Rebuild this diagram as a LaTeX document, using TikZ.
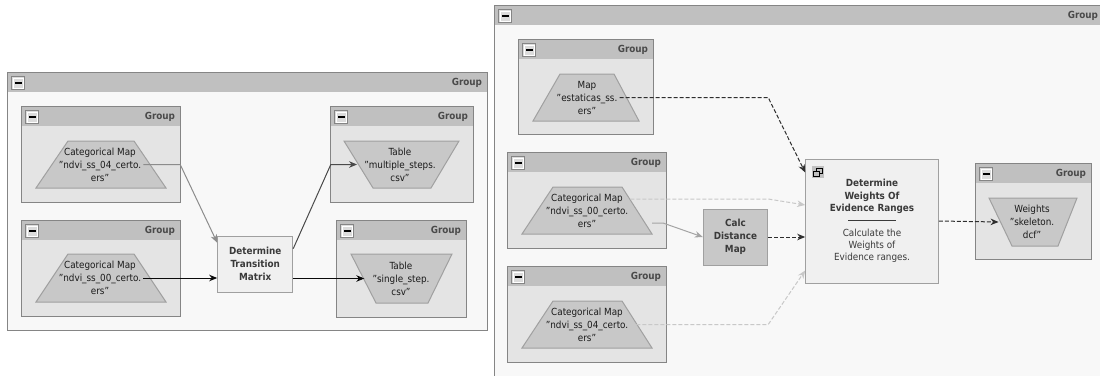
\documentclass[tikz,border=0pt]{standalone}
\usepackage{fontspec}
\setmainfont{DejaVu Sans Condensed}
\usetikzlibrary{arrows.meta,fit,calc}

% straight double quote, kept out of the TeX quote ligatures
\newcommand\dq{\symbol{34}}

\definecolor{outerfill}{HTML}{F8F8F8}
\definecolor{innerfill}{HTML}{E4E4E4}
\definecolor{headfill}{HTML}{C0C0C0}
\definecolor{frameline}{HTML}{858585}
\definecolor{trapfill}{HTML}{C8C8C8}
\definecolor{trapline}{HTML}{A0A0A0}
\definecolor{boxfill}{HTML}{F0F0F0}
\definecolor{boxline}{HTML}{A0A0A0}
\definecolor{calcfill}{HTML}{C8C8C8}
\definecolor{labelgray}{HTML}{4A4A4A}
\definecolor{boxtext}{HTML}{3A3A3A}
\definecolor{textdark}{HTML}{1A1A1A}
\definecolor{minusfill}{HTML}{DCDCDC}
\definecolor{lnblack}{HTML}{0A0A0A}
\definecolor{lndark}{HTML}{2E2E2E}
\definecolor{lnmid}{HTML}{4A4A4A}
\definecolor{lngray}{HTML}{8C8C8C}
\definecolor{lnsoft}{HTML}{A4A4A4}
\definecolor{lnlight}{HTML}{C8C8C8}

\tikzset{
  basefont/.style={font=\fontsize{9.8}{13}\selectfont},
  frame/.style={draw=frameline, line width=1pt},
  minusbox/.style={minimum size=13pt, inner sep=0pt, fill=minusfill,
    draw=frameline, line width=0.9pt,
    path picture={
      \draw[white, line width=1pt]
        ([shift={(1.3pt,-1.3pt)}]path picture bounding box.north west) rectangle
        ([shift={(-1.3pt,1.3pt)}]path picture bounding box.south east);
      \fill[black]
        ([shift={(-3.6pt,-0.9pt)}]path picture bounding box.center) rectangle
        ([shift={(3.6pt,0.9pt)}]path picture bounding box.center);}},
  grplabel/.style={inner sep=0pt, text=labelgray, font=\fontsize{9.8}{12}\selectfont\bfseries},
  trapshape/.style={fill=trapfill, draw=trapline, line width=1pt},
  traptext/.style={basefont, align=center, inner sep=2pt, text=textdark},
  stepbox/.style={basefont, align=center, inner sep=0pt, fill=boxfill,
    draw=boxline, line width=1pt, text=boxtext},
  conn/.style={line width=1pt, -{Stealth[length=8pt,width=6.5pt,inset=2.5pt]}},
  dashconn/.style={conn, dash pattern=on 4pt off 2pt},
}

% group frame: name, top-left x/y, bottom-right x/y, body colour
\newcommand\groupframe[6]{%
  \node[fit={(#2,#3) (#4,#5)}, inner sep=0pt, fill=#6] (#1) {};
  \fill[headfill] (#1.north west) rectangle ([yshift=-19.5pt]#1.north east);
  \draw[frame] (#1.north west) rectangle (#1.south east);
  \node[minusbox, anchor=north west] (#1-min) at ([shift={(3.5pt,-3.5pt)}]#1.north west) {};
  \node[grplabel, anchor=east] (#1-lab) at ([shift={(-5pt,-9.75pt)}]#1.north east) {Group};
}

% data shape: name, corners TL x, TR x, BR x, BL x, top y, bottom y, text x, text
\newcommand\dataitem[9]{%
  \filldraw[trapshape] (#2,#6) -- (#3,#6) -- (#4,#7) -- (#5,#7) -- cycle;
  \node[traptext] (#1) at (#8,{(#6+#7)/2}) {#9};
}

\begin{document}
\begin{tikzpicture}[x=1pt, y=-1pt]
\useasboundingbox (0,0) rectangle (1100,375);
\clip (0,0) rectangle (1100,375);
\fill[white] (0,0) rectangle (1100,375);

%% ---------------- left workflow ----------------
\groupframe{gL}{8}{73}{487}{330}{outerfill}
\groupframe{g1}{22}{107}{180}{202}{innerfill}
\groupframe{g2}{22}{221}{180}{316}{innerfill}
\groupframe{g3}{331}{107}{473}{202}{innerfill}
\groupframe{g4}{337}{221}{466}{317}{innerfill}

\dataitem{t1}{68}{134}{166}{36}{141}{188}{100}{Categorical Map\\\dq ndvi\_ss\_04\_certo.\\ers\dq}
\dataitem{t2}{68}{134}{166}{36}{254}{302}{100}{Categorical Map\\\dq ndvi\_ss\_00\_certo.\\ers\dq}
\dataitem{t3}{344}{459}{431}{373}{141}{188}{400}{Table\\\dq multiple\_steps.\\csv\dq}
\dataitem{t4}{351}{452}{428}{376}{254}{303}{401}{Table\\\dq single\_step.\\csv\dq}

\node[stepbox, minimum width=75pt, minimum height=56pt] (det) at (255.2,264.2)
  {\textbf{Determine}\\\textbf{Transition}\\\textbf{Matrix}};

\draw[conn, lngray] (t1.east) -- (t1.east -| g1.east) -- ([yshift=-7pt]det.north west);
\draw[conn, lnblack] (t2.east) -- (t2.east -| det.west);
\draw[conn, lnmid] ([yshift=-13pt]det.north east) -- (t3.west -| g3.west) -- ([xshift=-5pt]t3.west);
\draw[conn, lnblack] (t4.west -| det.east) -- ([xshift=-6pt]t4.west);

%% ---------------- right workflow ----------------
\groupframe{gR}{495}{6}{1103}{385}{outerfill}
\groupframe{g5}{519}{40}{653}{134}{innerfill}
\groupframe{g6}{508}{153}{666}{248}{innerfill}
\groupframe{g7}{508}{267}{666}{362}{innerfill}
\groupframe{g8}{976}{164}{1091}{259}{innerfill}

\dataitem{t5}{560}{614}{639}{533}{74}{121}{587}{Map\\\dq estaticas\_ss.\\ers\dq}
\dataitem{t6}{553}{622}{652}{522}{187}{234}{587}{Categorical Map\\\dq ndvi\_ss\_00\_certo.\\ers\dq}
\dataitem{t7}{553}{622}{652}{522}{301}{348}{587}{Categorical Map\\\dq ndvi\_ss\_04\_certo.\\ers\dq}
\dataitem{tw}{989}{1077}{1058}{1012}{198}{246}{1032}{Weights\\\dq skeleton.\\dcf\dq}

\node[stepbox, fill=calcfill, minimum width=64.4pt, minimum height=56pt] (calc) at (735.5,237)
  {\textbf{Calc}\\\textbf{Distance}\\\textbf{Map}};

\node[stepbox, minimum width=132.6pt, minimum height=124pt, font=\fontsize{9.8}{12.3}\selectfont] (wt) at (872,221)
  {\textbf{Determine}\\\textbf{Weights Of}\\\textbf{Evidence Ranges}\\
   \textcolor{boxtext}{\rule[3pt]{48pt}{0.8pt}}\\
   Calculate the\\Weights of\\Evidence ranges.};

% restore-window glyph in the corner of the step box
\node[fill=headfill, minimum size=12pt, inner sep=0pt, anchor=north west] (wicon)
  at ([shift={(6.5pt,-7pt)}]wt.north west) {};
\draw[black, line width=0.8pt] ($(wicon.north west)+(5,2.5)$) rectangle ($(wicon.north west)+(10.5,7.5)$);
\fill[headfill] ($(wicon.north west)+(1.5,5)$) rectangle ($(wicon.north west)+(8,11)$);
\draw[black, line width=0.8pt] ($(wicon.north west)+(2,5.5)$) rectangle ($(wicon.north west)+(7.5,10.5)$);
\draw[black, line width=1.4pt] ($(wicon.north west)+(2,6)$) -- ($(wicon.north west)+(7.5,6)$);

\coordinate (t6-out) at (652,223);

\draw[dashconn, lndark] (t5.east) -- (t5.east -| calc.east) -- ([yshift=-14pt]wt.north west);
\draw[dashconn, lnlight] ([yshift=11.5pt]t6.east) -- ([yshift=11.5pt]t6.east -| calc.east) -- ([yshift=16pt]wt.west);
\draw[conn, lnsoft] (t6-out) -- ($(t6-out)+(11,0)$) -- (calc.west);
\draw[dashconn, lndark] (calc.east) -- (calc.east -| wt.west);
\draw[dashconn, lnlight] (t7.east) -- (t7.east -| calc.east) -- ([yshift=13pt]wt.south west);
\draw[dashconn, lndark] (wt.east) -- ([xshift=-9pt]tw.west);
\end{tikzpicture}
\end{document}
